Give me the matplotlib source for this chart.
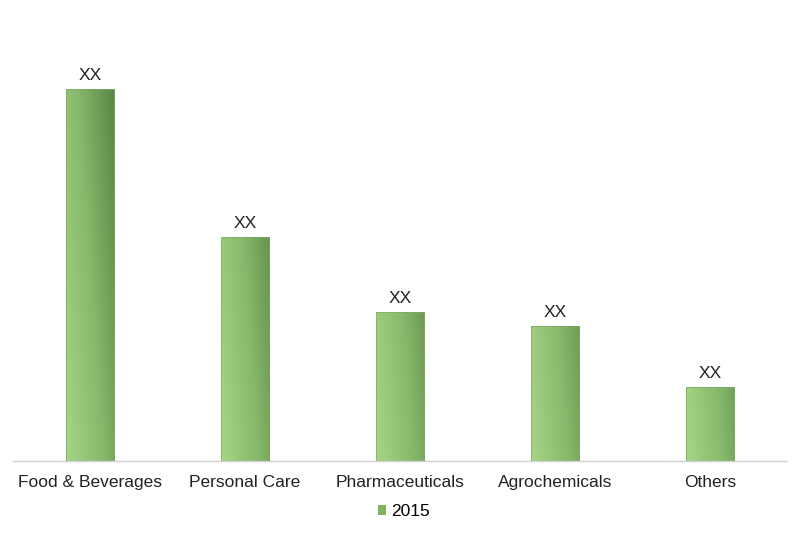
import numpy as np
import matplotlib.pyplot as plt
from matplotlib.colors import LinearSegmentedColormap
from matplotlib.patches import Patch

# Data (arbitrary units)
categories = ["Food & Beverages", "Personal Care", "Pharmaceuticals", "Agrochemicals", "Others"]
values = [372, 224, 149, 135, 74]
bar_labels = ["XX", "XX", "XX", "XX", "XX"]
series_name = "2015"

plt.rcParams['font.family'] = ['Liberation Sans', 'DejaVu Sans']

fig = plt.figure(figsize=(8, 5.41), dpi=100)
ax = fig.add_axes([0.016, 0.148, 0.968, 0.778])

x = np.arange(len(categories))
bars = ax.bar(x, values, width=0.31, color="none", edgecolor="#7ea868", linewidth=0.5, zorder=3)

# green gradient, light at bottom-left, dark at top-right
cmap = LinearSegmentedColormap.from_list("grn", ["#a6d585", "#86b96a", "#5a8646"])
for b in bars:
    x0, w, h = b.get_x(), b.get_width(), b.get_height()
    # vertical share of the gradient grows with bar height (in data units)
    gx, gy = np.meshgrid(np.linspace(0, 1, 64), np.linspace(0, h / 372, 64))
    grad = np.clip(0.65 * gx + 0.35 * gy, 0, 1)
    im = ax.imshow(grad, extent=(x0, x0 + w, 0, h), origin="lower", aspect="auto",
                   cmap=cmap, vmin=0, vmax=1, zorder=2)
    im.set_clip_path(b)

for b, lab in zip(bars, bar_labels):
    ax.text(b.get_x() + b.get_width() / 2, b.get_height() + 6, lab,
            ha="center", va="bottom", fontsize=12.5, color="#222222")

ax.set_xlim(-0.5, len(categories) - 0.5)
ax.set_ylim(0, 421)
ax.set_xticks(x)
ax.set_xticklabels(categories, fontsize=12.5, color="#222222")
ax.tick_params(axis="x", length=0, pad=10)
ax.set_yticks([])
for s in ["top", "right", "left"]:
    ax.spines[s].set_visible(False)
ax.spines["bottom"].set_color("#d0d0d0")
ax.spines["bottom"].set_linewidth(1)

handle = Patch(facecolor="#7fb35f", edgecolor="none")
fig.legend([handle], [series_name], loc="center", bbox_to_anchor=(0.505, 0.054),
           frameon=False, fontsize=12.5, handlelength=0.5, handleheight=0.5,
           handletextpad=0.3)

fig.savefig("out.png", dpi=100)
